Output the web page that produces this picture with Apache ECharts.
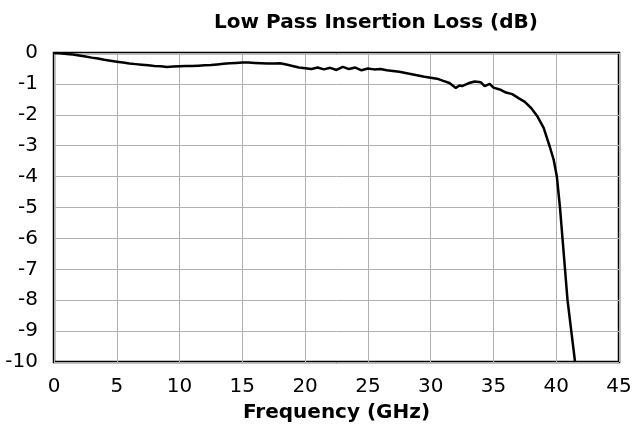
<!DOCTYPE html>
<html>
<head>
<meta charset="utf-8">
<script src="https://cdn.jsdelivr.net/npm/echarts@6/dist/echarts.min.js"></script>
<style>
    html, body { margin: 0; padding: 0; background: #fff; }
    #chart { width: 636px; height: 429px; }
</style>
</head>
<body>
<div id="chart"></div>
<script>
// frequency (GHz) and insertion loss (dB)
var freq = [0, 0.5, 1, 1.5, 2, 2.5, 3, 3.5, 4, 4.5, 5, 5.5, 6, 6.5, 7, 7.5, 8, 8.5, 9, 9.5,
    10, 10.5, 11, 11.5, 12, 12.5, 13, 13.5, 14, 14.5, 15, 15.5, 16, 16.5, 17, 17.5, 18, 18.5, 19, 19.5,
    20, 20.5, 21, 21.5, 22, 22.5, 23, 23.5, 24, 24.5, 25, 25.5, 26, 26.5, 27, 27.5, 28, 28.5, 29, 29.5,
    30, 30.5, 31, 31.5, 32, 32.3, 32.5, 33, 33.5, 34, 34.3, 34.7, 35, 35.5, 36, 36.5, 37, 37.5, 38, 38.5,
    39, 39.5, 39.8, 40.05, 40.3, 40.5, 40.9, 41.2, 41.5];
var loss = [0, -0.01, -0.03, -0.05, -0.08, -0.11, -0.15, -0.18, -0.22, -0.25, -0.28, -0.31, -0.34, -0.36, -0.38, -0.40, -0.42, -0.43, -0.45, -0.44,
    -0.43, -0.42, -0.42, -0.41, -0.40, -0.39, -0.37, -0.35, -0.33, -0.32, -0.31, -0.31, -0.32, -0.33, -0.34, -0.34, -0.33, -0.37, -0.42, -0.47,
    -0.49, -0.52, -0.47, -0.53, -0.48, -0.55, -0.45, -0.52, -0.47, -0.56, -0.50, -0.53, -0.52, -0.56, -0.58, -0.61, -0.65, -0.69, -0.73, -0.77,
    -0.80, -0.83, -0.90, -0.97, -1.13, -1.05, -1.07, -0.98, -0.92, -0.95, -1.07, -1.00, -1.12, -1.18, -1.28, -1.33, -1.46, -1.58, -1.78, -2.05,
    -2.42, -3.05, -3.46, -4.00, -5.00, -6.00, -8.00, -9.00, -10.00];

var xTicks = [0, 5, 10, 15, 20, 25, 30, 35, 40, 45];
var yTicks = [0, -1, -2, -3, -4, -5, -6, -7, -8, -9, -10];

var points = [];
for (var i = 0; i < freq.length; i++) {
    points.push([freq[i], loss[i]]);
}

var myChart = echarts.init(document.getElementById('chart'));
var font = 'DejaVu Sans';

var option = {
    animation: false,
    title: {
        text: 'Low Pass Insertion Loss (dB)',
        left: 371,
        top: 8,
        textAlign: 'center',
        textStyle: { fontFamily: font, fontSize: 20, fontWeight: 'bold', color: '#000' }
    },
    grid: {
        left: 54, right: 17, top: 53, bottom: 67,
        show: true, borderColor: '#000', borderWidth: 2.5
    },
    xAxis: {
        type: 'value',
        min: xTicks[0], max: xTicks[xTicks.length - 1], interval: 5,
        name: 'Frequency (GHz)',
        nameLocation: 'middle',
        nameGap: 41,
        nameTextStyle: { fontFamily: font, fontSize: 20, fontWeight: 'bold', color: '#000' },
        axisLine: { show: false },
        axisTick: { show: false },
        axisLabel: { fontFamily: font, fontSize: 20, color: '#000', margin: 15 },
        splitLine: { lineStyle: { color: '#b0b0b0', width: 1 } }
    },
    yAxis: {
        type: 'value',
        min: yTicks[yTicks.length - 1], max: yTicks[0], interval: 1,
        axisLine: { show: false },
        axisTick: { show: false },
        axisLabel: { fontFamily: font, fontSize: 20, color: '#000', margin: 16 },
        splitLine: { lineStyle: { color: '#b0b0b0', width: 1 } }
    },
    series: [{
        type: 'line',
        data: points,
        showSymbol: false,
        clip: true,
        lineStyle: { color: '#000', width: 2.5 }
    }]
};

myChart.setOption(option);
</script>
</body>
</html>
